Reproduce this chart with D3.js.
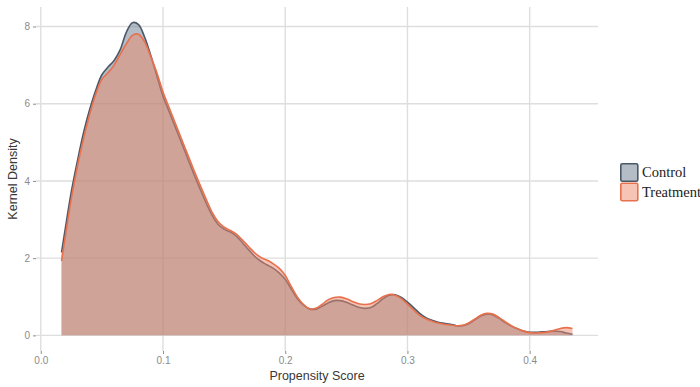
<!DOCTYPE html>
<html><head><meta charset="utf-8">
<script src="https://cdn.jsdelivr.net/npm/d3@7"></script>
<style>html,body{margin:0;padding:0;background:#fff;overflow:hidden}</style>
</head><body>
<svg id="c" width="700" height="387"></svg>
<script>
const scoreGrid = [0.017,0.02,0.025,0.03,0.035,0.04,0.045,0.05,0.055,0.06,0.065,0.07,0.075,0.08,0.085,0.09,0.095,0.1,0.105,0.11,0.115,0.12,0.125,0.13,0.135,0.14,0.145,0.15,0.155,0.16,0.165,0.17,0.175,0.18,0.185,0.19,0.195,0.2,0.205,0.21,0.215,0.22,0.225,0.23,0.235,0.24,0.245,0.25,0.255,0.26,0.265,0.27,0.275,0.28,0.285,0.29,0.295,0.3,0.305,0.31,0.315,0.32,0.325,0.33,0.335,0.34,0.345,0.35,0.355,0.36,0.365,0.37,0.375,0.38,0.385,0.39,0.395,0.4,0.405,0.41,0.415,0.42,0.425,0.43,0.435];
const controlDensity = [2.15,2.75,3.72,4.52,5.25,5.85,6.35,6.75,6.95,7.12,7.4,7.85,8.1,8.05,7.72,7.25,6.72,6.2,5.8,5.4,5.0,4.6,4.2,3.82,3.45,3.12,2.88,2.75,2.68,2.57,2.4,2.22,2.05,1.92,1.83,1.74,1.62,1.45,1.2,0.95,0.78,0.68,0.68,0.75,0.84,0.9,0.9,0.86,0.79,0.73,0.7,0.72,0.82,0.95,1.04,1.05,0.98,0.86,0.72,0.57,0.46,0.39,0.34,0.31,0.29,0.25,0.25,0.3,0.4,0.5,0.55,0.53,0.44,0.33,0.24,0.17,0.11,0.08,0.08,0.09,0.1,0.11,0.1,0.06,0.03];
const treatmentDensity = [1.92,2.55,3.55,4.38,5.1,5.72,6.25,6.63,6.8,7.0,7.28,7.55,7.77,7.8,7.6,7.22,6.8,6.3,5.9,5.5,5.1,4.7,4.3,3.92,3.55,3.2,2.95,2.8,2.72,2.62,2.47,2.3,2.14,2.02,1.95,1.86,1.74,1.55,1.26,0.99,0.8,0.69,0.7,0.8,0.92,0.98,0.99,0.95,0.88,0.82,0.8,0.82,0.9,1.0,1.06,1.04,0.95,0.81,0.66,0.52,0.43,0.37,0.32,0.29,0.27,0.25,0.26,0.32,0.42,0.52,0.57,0.55,0.46,0.35,0.25,0.17,0.11,0.07,0.06,0.07,0.09,0.13,0.18,0.2,0.18];
const groups = ["Control","Treatment"];
const xTicks = [0.0,0.1,0.2,0.3,0.4];
const yTicks = [0,2,4,6,8];

const svg = d3.select("#c");
svg.append("rect").attr("width",700).attr("height",387).attr("fill","#fff");

const styles = {
  Control:   {fill:"#69798d", line:"#4b5868"},
  Treatment: {fill:"#eb896b", line:"#e8704c"}
};
const series = [
  {name:"Control", values: controlDensity},
  {name:"Treatment", values: treatmentDensity}
];

const xExt = d3.extent(scoreGrid);
const xPad = (xExt[1]-xExt[0])*0.05;
const yMax = d3.max(series.flatMap(s=>s.values));
const yPad = yMax*0.05;
const x = d3.scaleLinear().domain([xExt[0]-xPad, xExt[1]+xPad]).range([36, 598]);
const y = d3.scaleLinear().domain([-yPad, yMax+yPad]).range([351, 7]);

const [px0, px1] = x.range();
const [py0, py1] = y.range();

// grid
const g = svg.append("g");
g.selectAll(".gy").data(yTicks).join("line")
  .attr("x1",px0).attr("x2",px1).attr("y1",d=>y(d)).attr("y2",d=>y(d))
  .attr("stroke","#dedede").attr("stroke-width",1.4);
g.selectAll(".gx").data(xTicks).join("line")
  .attr("y1",py0).attr("y2",py1).attr("x1",d=>x(d)).attr("x2",d=>x(d))
  .attr("stroke","#dedede").attr("stroke-width",1.4);

// densities
const area = d3.area().curve(d3.curveCatmullRom)
  .x((d,i)=>x(scoreGrid[i])).y0(y(0)).y1(d=>y(d));
const line = d3.line().curve(d3.curveCatmullRom)
  .x((d,i)=>x(scoreGrid[i])).y(d=>y(d));
series.forEach(s=>{
  svg.append("path").attr("d",area(s.values))
    .attr("fill",styles[s.name].fill).attr("fill-opacity",0.5);
  svg.append("path").attr("d",line(s.values))
    .attr("fill","none").attr("stroke",styles[s.name].line).attr("stroke-width",1.6);
});

// axes
const xAxis = d3.axisBottom(x).tickValues(xTicks).tickFormat(d3.format(".1f")).tickSize(3).tickPadding(3);
const yAxis = d3.axisLeft(y).tickValues(yTicks).tickFormat(d3.format("d")).tickSize(3).tickPadding(3);
const xa = svg.append("g").attr("transform",`translate(0,${py0})`).call(xAxis);
const ya = svg.append("g").attr("transform",`translate(${px0},0)`).call(yAxis);
[xa,ya].forEach(a=>{
  a.select(".domain").remove();
  a.selectAll(".tick line").attr("stroke","#8c8c8c").attr("stroke-width",1);
  a.selectAll(".tick text").attr("fill","#8a8a8a")
    .style("font-family","'Liberation Sans', Arial, sans-serif").style("font-size","10px");
});

svg.append("text").attr("x",(px0+px1)/2).attr("y",380).attr("text-anchor","middle")
  .style("font-family","'Liberation Sans', Arial, sans-serif").style("font-size","12.5px")
  .attr("fill","#383838").text("Propensity Score");
svg.append("text").attr("transform",`translate(17,${(py0+py1)/2}) rotate(-90)`).attr("text-anchor","middle")
  .style("font-family","'Liberation Sans', Arial, sans-serif").style("font-size","12.5px")
  .attr("fill","#383838").text("Kernel Density");

// legend
const lg = svg.append("g").attr("transform","translate(620,163)");
groups.forEach((name,i)=>{
  const row = lg.append("g").attr("transform",`translate(0,${i*19.5})`);
  row.append("rect").attr("x",0.8).attr("y",0.8).attr("width",17).attr("height",17.5).attr("rx",1.5)
    .attr("fill",styles[name].fill).attr("fill-opacity",0.5)
    .attr("stroke",styles[name].line).attr("stroke-width",1.6);
  row.append("text").attr("x",22).attr("y",14)
    .style("font-family","'Liberation Serif', 'Times New Roman', serif").style("font-size","14.5px")
    .attr("fill","#222").text(name);
});
</script>
</body></html>
